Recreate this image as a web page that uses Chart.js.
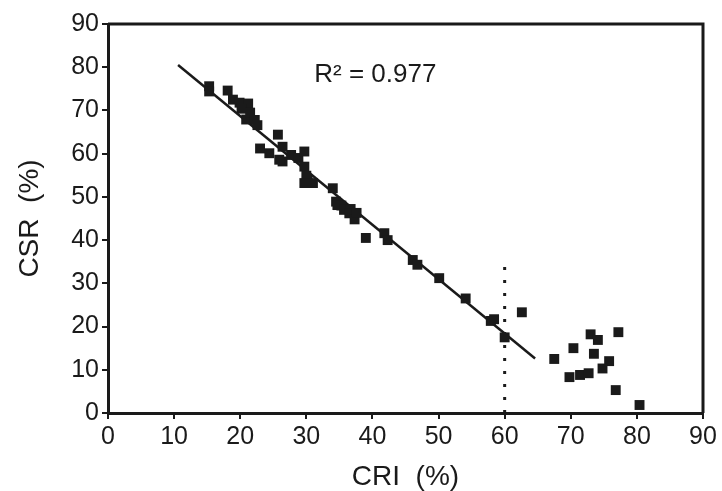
<!DOCTYPE html>
<html>
<head>
<meta charset="utf-8">
<script src="https://cdn.jsdelivr.net/npm/chart.js@4"></script>
<style>
  html, body { margin: 0; padding: 0; background: #fff; }
  #wrap { width: 722px; height: 491px; }
</style>
</head>
<body>
<div id="wrap"><canvas id="scatter"></canvas></div>
<script>
// CRI (%) vs CSR (%)
var cri = [15.3, 15.3, 18.1, 18.9, 19.9, 21.2, 20.2, 20.9, 21.5, 22.2, 22.6, 23.0, 24.4,
           25.7, 26.4, 26.4, 25.9, 27.7, 28.8, 29.7, 29.7, 30.2, 30.0, 29.7, 31.0,
           34.0, 34.5, 34.7, 35.3, 35.7, 36.7, 36.5, 37.3, 37.6, 39.0, 41.8, 42.3,
           46.1, 46.8, 50.1, 54.1, 57.9, 58.4, 60.0, 62.6,
           67.5, 70.4, 69.8, 71.4, 72.7, 73.0, 74.1, 73.5, 75.8, 74.8, 77.2, 76.8, 80.4];
var csr = [75.6, 74.4, 74.6, 72.5, 71.8, 71.6, 70.4, 67.9, 69.5, 67.8, 66.6, 61.2, 60.1,
           64.4, 61.6, 58.2, 58.6, 59.7, 59.0, 60.5, 57.0, 53.9, 54.9, 53.2, 53.2,
           52.0, 48.9, 48.1, 48.0, 47.0, 47.2, 46.2, 44.8, 46.3, 40.5, 41.6, 40.0,
           35.4, 34.3, 31.2, 26.5, 21.3, 21.7, 17.5, 23.3,
           12.5, 15.0, 8.3, 8.8, 9.2, 18.2, 16.9, 13.7, 12.0, 10.3, 18.7, 5.3, 1.85];

// regression fit end points and the 60% cut-off
var fitX = [10.6, 64.6];
var fitY = [80.5, 12.6];
var cutX = [60, 60];
var cutY = [0, 35];
var r2Label = 'R\u00b2 = 0.977';

var ticks = [0, 10, 20, 30, 40, 50, 60, 70, 80, 90];

function pts(xs, ys) {
    return xs.map(function (v, i) { return {x: v, y: ys[i]}; });
}

var font = '"Liberation Sans", Arial, sans-serif';
var ink = '#1a1a1a';

var frame = {
    id: 'frame',
    afterDraw: function (chart) {
        var c = chart.ctx, a = chart.chartArea;
        var sx = chart.scales.x, sy = chart.scales.y;
        c.save();
        c.strokeStyle = ink;
        c.lineWidth = 3;
        c.beginPath();
        c.moveTo(a.left, a.top);
        c.lineTo(a.right, a.top);
        c.lineTo(a.right, a.bottom);
        c.stroke();
        c.fillStyle = ink;
        c.font = '26px ' + font;
        c.textBaseline = 'middle';
        c.fillText(r2Label, sx.getPixelForValue(31.2), sy.getPixelForValue(78.2));
        c.restore();
    }
};

var axisStyle = function (titleText, titlePad) {
    return {
        type: 'linear',
        min: 0,
        max: 90,
        afterBuildTicks: function (s) { s.ticks = ticks.map(function (v) { return {value: v}; }); },
        border: {display: true, color: ink, width: 3},
        grid: {drawOnChartArea: false, drawTicks: true, tickLength: 6, color: ink, lineWidth: 2},
        ticks: {color: ink, font: {family: font, size: 25}, padding: 3},
        title: {display: true, text: titleText, color: ink,
                font: {family: font, size: 28, lineHeight: 1}, padding: titlePad}
    };
};

var xAxis = axisStyle('CRI  (%)', {top: 0, bottom: 0});
xAxis.afterFit = function (s) { s.height = 78; };
var yAxis = axisStyle('CSR  (%)', {top: 16, bottom: 0});
yAxis.afterFit = function (s) { s.width = 108; };

var ctx = document.getElementById('scatter').getContext('2d');
var myChart = new Chart(ctx, {
    type: 'scatter',
    data: {
        datasets: [{
            label: 'CSR',
            data: pts(cri, csr),
            pointStyle: 'rect',
            pointRadius: 7,
            backgroundColor: ink,
            borderWidth: 0
        }, {
            label: 'fit',
            type: 'line',
            data: pts(fitX, fitY),
            borderColor: ink,
            borderWidth: 2.5,
            pointRadius: 0,
            fill: false
        }, {
            label: 'cut-off',
            type: 'line',
            data: pts(cutX, cutY),
            borderColor: ink,
            borderWidth: 3,
            borderDash: [3, 10],
            pointRadius: 0,
            fill: false
        }]
    },
    options: {
        responsive: true,
        maintainAspectRatio: false,
        animation: false,
        layout: {padding: {top: 24, right: 19, left: 0, bottom: 0}},
        plugins: {legend: {display: false}, tooltip: {enabled: false}},
        scales: {x: xAxis, y: yAxis}
    },
    plugins: [frame]
});
</script>
</body>
</html>
